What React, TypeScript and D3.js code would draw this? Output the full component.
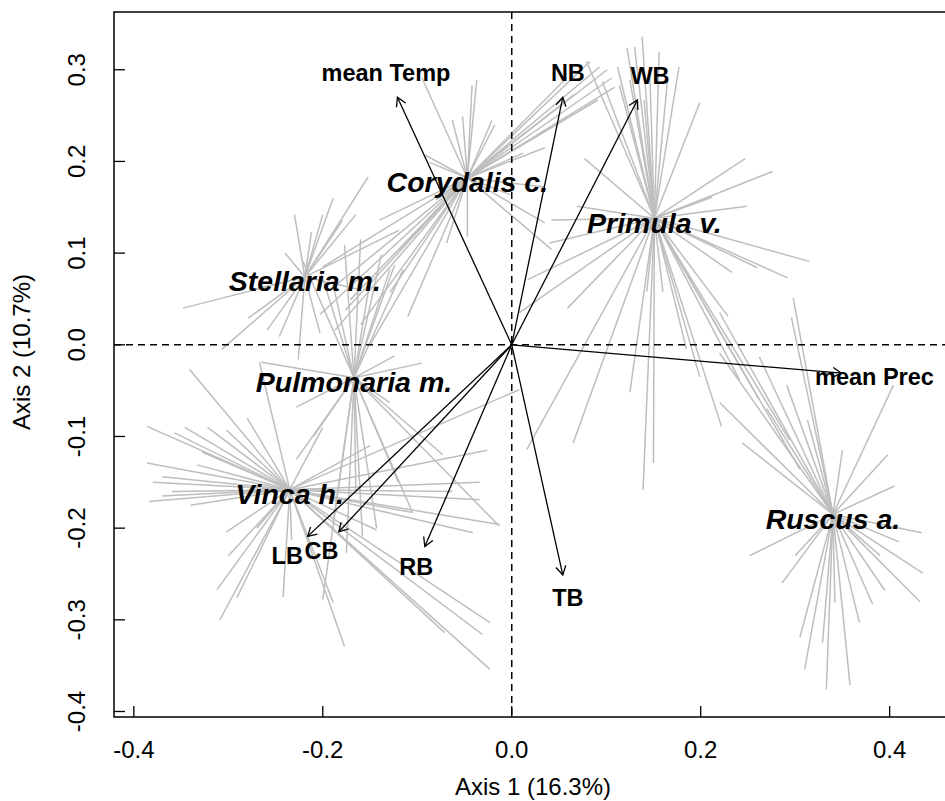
import React from 'react';
import * as d3 from 'd3';

// species centroids (axis 1, axis 2)
const species = ['Corydalis c.', 'Primula v.', 'Stellaria m.', 'Pulmonaria m.', 'Vinca h.', 'Ruscus a.'];
const centroidX = [-0.047, 0.151, -0.219, -0.167, -0.235, 0.34];
const centroidY = [0.182, 0.138, 0.074, -0.036, -0.158, -0.185];

// plot scores of each species
const corydalisSites: [number, number][] = [
  [0.083, 0.309], [0.093, 0.303], [0.101, 0.3], [0.106, 0.291], [0.109, 0.281], [0.058, 0.291],
  [0.066, 0.273], [0.091, 0.267], [0.035, 0.215], [0.012, 0.209], [-0.042, 0.283], [-0.037, 0.289],
  [-0.052, 0.249], [-0.063, 0.245], [-0.095, 0.291], [-0.021, 0.245], [-0.018, 0.24], [-0.092, 0.207],
  [-0.087, 0.199], [0.035, 0.133], [0.042, 0.104], [-0.047, 0.118], [-0.069, 0.111], [-0.11, 0.031],
  [-0.129, 0.057], [-0.171, 0.049], [-0.187, 0.016], [-0.15, 0.0], [-0.203, 0.033], [-0.119, 0.104],
  [-0.14, 0.136], [-0.08, 0.158], [-0.002, 0.164], [0.035, 0.172], [-0.2, 0.085], [-0.192, 0.06],
  [-0.176, 0.038], [-0.16, 0.022]
];
const primulaSites: [number, number][] = [
  [0.138, 0.336], [0.122, 0.324], [0.112, 0.303], [0.079, 0.309], [0.156, 0.319], [0.177, 0.303],
  [0.199, 0.264], [0.13, 0.325], [0.114, 0.283], [0.096, 0.287], [0.125, 0.289], [0.14, 0.267],
  [0.146, 0.3], [0.165, 0.29], [0.077, 0.203], [0.069, 0.151], [0.247, 0.203], [0.276, 0.189],
  [0.249, 0.151], [0.212, 0.161], [0.315, 0.091], [0.292, 0.073], [0.26, 0.084], [0.233, 0.079],
  [0.04, 0.111], [0.017, 0.071], [0.059, 0.04], [0.008, 0.035], [0.042, 0.136], [0.125, -0.052],
  [0.065, -0.107], [0.016, -0.114], [0.139, -0.158], [0.15, -0.129], [0.143, 0.058], [0.16, 0.058],
  [0.222, -0.089], [0.199, -0.035], [0.229, 0.031], [0.262, -0.06], [0.294, -0.104], [0.305, -0.136],
  [0.241, -0.038], [0.185, -0.005]
];
const stellariaSites: [number, number][] = [
  [-0.23, 0.142], [-0.212, 0.123], [-0.2, 0.142], [-0.189, 0.16], [-0.152, 0.183], [-0.179, 0.136],
  [-0.165, 0.142], [-0.348, 0.04], [-0.279, 0.029], [-0.307, -0.005], [-0.259, 0.016], [-0.246, 0.009],
  [-0.226, -0.016], [-0.203, 0.013], [-0.119, 0.125], [-0.24, 0.1], [-0.275, 0.06], [-0.16, 0.06]
];
const pulmonariaSites: [number, number][] = [
  [-0.221, 0.091], [-0.203, 0.082], [-0.177, 0.109], [-0.16, 0.115], [-0.138, 0.098], [-0.124, 0.087],
  [-0.124, -0.012], [-0.129, -0.063], [-0.228, -0.068], [-0.265, -0.019], [-0.228, -0.125], [-0.189, -0.194],
  [-0.175, -0.227], [-0.158, -0.209], [-0.143, -0.2], [-0.105, -0.183], [-0.2, -0.278], [-0.073, -0.12],
  [-0.19, 0.07], [-0.15, 0.07], [-0.21, -0.1], [-0.165, -0.16], [-0.12, -0.15], [-0.095, -0.02],
  [-0.129, 0.082], [-0.115, 0.082], [-0.013, -0.198]
];
const vincaSites: [number, number][] = [
  [-0.386, -0.089], [-0.384, -0.171], [-0.37, -0.165], [-0.386, -0.129], [-0.37, -0.144], [-0.357, -0.096],
  [-0.346, -0.09], [-0.322, -0.09], [-0.302, -0.093], [-0.328, -0.117], [-0.333, -0.131], [-0.341, -0.027],
  [-0.28, -0.08], [-0.267, -0.019], [-0.302, -0.204], [-0.312, -0.267], [-0.309, -0.3], [-0.291, -0.276],
  [-0.242, -0.275], [-0.233, -0.213], [-0.177, -0.329], [-0.189, -0.281], [-0.023, -0.303], [-0.031, -0.316],
  [-0.023, -0.354], [-0.071, -0.314], [-0.041, -0.205], [-0.013, -0.196], [-0.034, -0.15], [-0.026, -0.115],
  [-0.034, -0.169], [-0.063, -0.16], [-0.105, -0.183], [-0.143, -0.202], [0.008, -0.049], [-0.38, -0.15],
  [-0.36, -0.16], [-0.34, -0.175], [-0.3, -0.23], [-0.27, -0.2], [-0.2, -0.09], [-0.15, -0.11]
];
const ruscusSites: [number, number][] = [
  [0.298, 0.051], [0.296, 0.03], [0.262, -0.013], [0.291, -0.044], [0.313, -0.082], [0.244, -0.107],
  [0.22, 0.035], [0.22, -0.009], [0.22, -0.063], [0.404, -0.044], [0.398, -0.12], [0.405, -0.154],
  [0.35, -0.115], [0.434, -0.205], [0.435, -0.249], [0.432, -0.28], [0.252, -0.23], [0.286, -0.26],
  [0.305, -0.319], [0.31, -0.354], [0.333, -0.376], [0.358, -0.371], [0.368, -0.303], [0.382, -0.283],
  [0.395, -0.268], [0.329, -0.325], [0.342, -0.281], [0.27, -0.07], [0.39, -0.23], [0.41, -0.215],
  [0.3, -0.23]
];
const sites = [corydalisSites, primulaSites, stellariaSites, pulmonariaSites, vincaSites, ruscusSites];

// environmental vectors (arrow tips)
const envNames = ['mean Temp', 'NB', 'WB', 'mean Prec', 'LB', 'CB', 'RB', 'TB'];
const envX = [-0.121, 0.054, 0.133, 0.349, -0.216, -0.183, -0.092, 0.054];
const envY = [0.27, 0.27, 0.267, -0.031, -0.209, -0.204, -0.22, -0.251];

const xTicks = [-0.4, -0.2, 0.0, 0.2, 0.4];
const yTicks = [-0.4, -0.3, -0.2, -0.1, 0.0, 0.1, 0.2, 0.3];

const W = 945;
const H = 801;
const margin = { left: 114, top: 12, right: 952, bottom: 717 };
const font = 'Liberation Sans, Arial, Helvetica, sans-serif';

export default function App() {
  const x = d3.scaleLinear().domain([-0.421, 0.466]).range([margin.left, margin.right]);
  const y = d3.scaleLinear().domain([-0.406, 0.363]).range([margin.bottom, margin.top]);

  const arrowHead = (x0: number, y0: number, x1: number, y1: number) => {
    const a = Math.atan2(y1 - y0, x1 - x0);
    const len = 10;
    const s = Math.PI / 6;
    const p1 = [x1 - len * Math.cos(a - s), y1 - len * Math.sin(a - s)];
    const p2 = [x1 - len * Math.cos(a + s), y1 - len * Math.sin(a + s)];
    return `M${p1[0]},${p1[1]}L${x1},${y1}L${p2[0]},${p2[1]}`;
  };

  return (
    <svg width={W} height={H} style={{ position: 'absolute', left: 0, top: 0, background: '#fff' }}>
      <defs>
        <clipPath id="plot">
          <rect x={margin.left} y={margin.top} width={margin.right - margin.left} height={margin.bottom - margin.top} />
        </clipPath>
      </defs>
      <g clipPath="url(#plot)">
        {sites.map((pts, g) =>
          pts.map((p, i) => (
            <line
              key={`s-${g}-${i}`}
              x1={x(centroidX[g])}
              y1={y(centroidY[g])}
              x2={x(p[0])}
              y2={y(p[1])}
              stroke="#bebebe"
              strokeWidth={1.5}
            />
          ))
        )}
        <line x1={margin.left} x2={margin.right} y1={y(0)} y2={y(0)} stroke="#000" strokeWidth={1.5} strokeDasharray="7,5" />
        <line x1={x(0)} x2={x(0)} y1={margin.top} y2={margin.bottom} stroke="#000" strokeWidth={1.5} strokeDasharray="7,5" />
        {envNames.map((n, i) => (
          <g key={`a-${n}`}>
            <line x1={x(0)} y1={y(0)} x2={x(envX[i])} y2={y(envY[i])} stroke="#000" strokeWidth={1.3} />
            <path d={arrowHead(x(0), y(0), x(envX[i]), y(envY[i]))} fill="none" stroke="#000" strokeWidth={1.3} />
          </g>
        ))}
        {envNames.map((n, i) => (
          <text
            key={`t-${n}`}
            x={x(envX[i] * 1.1)}
            y={y(envY[i] * 1.1)}
            dy="0.36em"
            textAnchor="middle"
            fontFamily={font}
            fontWeight="bold"
            fontSize={23.5}
          >
            {n}
          </text>
        ))}
        {species.map((s, i) => (
          <text
            key={`sp-${s}`}
            x={x(centroidX[i])}
            y={y(centroidY[i])}
            dy="0.5em"
            textAnchor="middle"
            fontFamily={font}
            fontWeight="bold"
            fontStyle="italic"
            fontSize={28.5}
          >
            {s}
          </text>
        ))}
      </g>

      <rect
        x={margin.left}
        y={margin.top}
        width={margin.right - margin.left}
        height={margin.bottom - margin.top}
        fill="none"
        stroke="#000"
        strokeWidth={1.5}
      />

      {xTicks.map((t) => (
        <g key={`xt-${t}`}>
          <line x1={x(t)} x2={x(t)} y1={margin.bottom} y2={margin.bottom - 11} stroke="#000" strokeWidth={1.3} />
          <text x={x(t)} y={758} textAnchor="middle" fontFamily={font} fontSize={24}>
            {t.toFixed(1)}
          </text>
        </g>
      ))}
      {yTicks.map((t) => (
        <g key={`yt-${t}`}>
          <line x1={margin.left} x2={margin.left + 11} y1={y(t)} y2={y(t)} stroke="#000" strokeWidth={1.3} />
          <text
            transform={`translate(85,${y(t)}) rotate(-90)`}
            textAnchor="middle"
            fontFamily={font}
            fontSize={24}
          >
            {t.toFixed(1)}
          </text>
        </g>
      ))}

      <text x={533} y={795} textAnchor="middle" fontFamily={font} fontSize={24}>
        Axis 1 (16.3%)
      </text>
      <text transform="translate(30,352) rotate(-90)" textAnchor="middle" fontFamily={font} fontSize={24}>
        Axis 2 (10.7%)
      </text>
    </svg>
  );
}
